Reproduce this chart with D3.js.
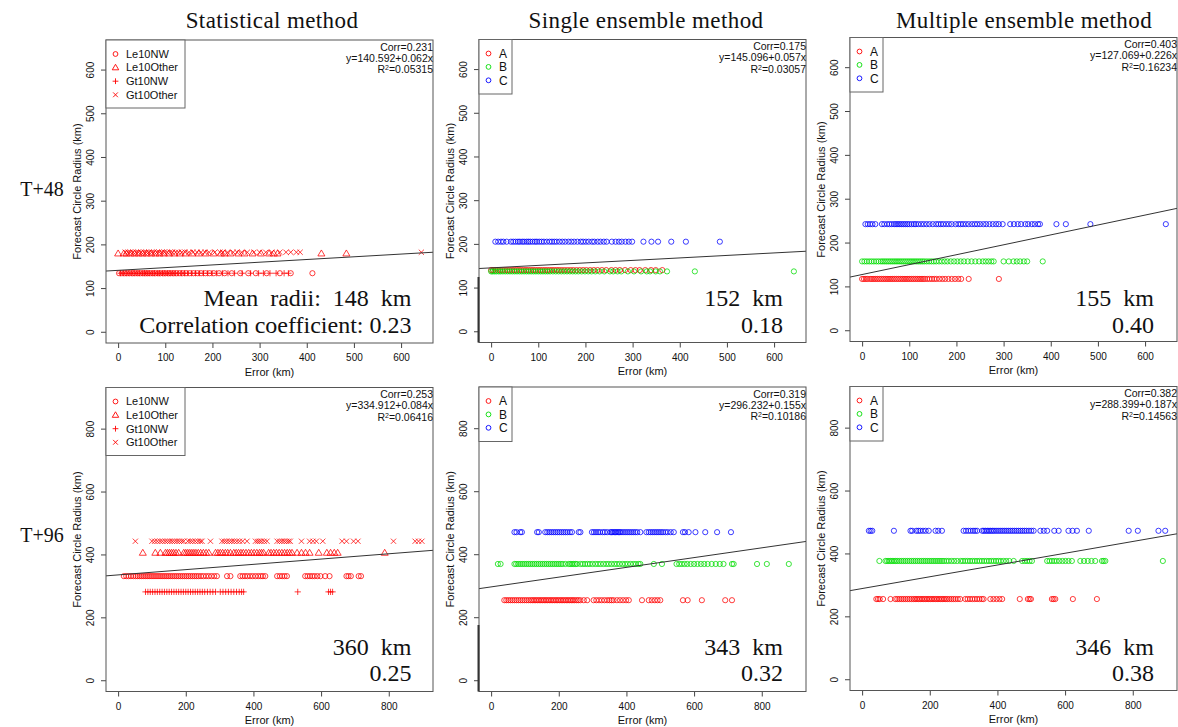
<!DOCTYPE html>
<html>
<head>
<meta charset="utf-8">
<script src="https://cdn.jsdelivr.net/npm/d3@7"></script>
<style>
  body { margin: 0; background: #fff; }
  svg text { font-family: "Liberation Sans", Arial, Helvetica, sans-serif; fill: #111; }
  svg text.serif { font-family: "Liberation Serif", "Times New Roman", serif; }
</style>
</head>
<body>
<svg id="chart" width="1178" height="727"></svg>
<script>
// ---------- data ----------
// forecast errors (km) per group; radii (km) per group

// T+48, statistical method
const t48StatLe10NW = [2, 8, 14, 19, 25, 31, 36, 42, 47, 53, 58, 63, 68, 74, 79, 85, 90, 96, 101, 107, 112, 118, 124, 131, 137, 144, 152, 160, 168, 176, 185, 194, 203, 214, 226, 241, 259, 276, 292, 315, 343, 366, 412];
const t48StatLe10Other = [0, 12, 18, 27, 35, 44, 52, 61, 70, 79, 88, 97, 108, 119, 131, 143, 157, 171, 186, 202, 218, 226, 238, 255, 268, 285, 303, 320, 330, 338, 431, 484];
const t48StatGt10NW = [5, 11, 17, 23, 29, 34, 40, 45, 51, 56, 61, 66, 72, 77, 83, 88, 94, 99, 105, 110, 116, 121, 127, 134, 141, 148, 156, 164, 172, 181, 190, 199, 209, 221, 233, 247, 263, 281, 298, 308, 322, 335, 352, 361];
const t48StatGt10Other = [15, 21, 26, 32, 38, 43, 49, 55, 60, 65, 71, 76, 82, 87, 93, 98, 104, 110, 115, 122, 128, 135, 142, 150, 159, 167, 176, 184, 193, 205, 216, 222, 232, 244, 252, 262, 274, 288, 300, 313, 326, 343, 356, 366, 378, 386, 643];
const t48StatRadii = [134, 179, 134, 182];

// T+48, single ensemble method
const t48SingleA = [0, 4, 9, 14, 19, 24, 29, 34, 39, 44, 49, 54, 59, 64, 69, 74, 79, 84, 89, 94, 99, 104, 109, 114, 119, 124, 129, 134, 139, 144, 150, 156, 162, 168, 174, 181, 188, 195, 202, 210, 218, 226, 235, 244, 255, 264, 273, 284, 296, 306, 315, 327, 339, 349, 363];
const t48SingleB = [0, 3, 7, 11, 16, 20, 25, 30, 35, 40, 45, 50, 55, 60, 65, 70, 75, 80, 85, 90, 95, 100, 105, 110, 115, 120, 125, 131, 137, 143, 149, 155, 161, 167, 173, 179, 185, 192, 199, 206, 213, 221, 230, 240, 252, 259, 268, 276, 290, 303, 318, 330, 337, 349, 358, 373, 432, 642];
const t48SingleC = [9, 15, 21, 26, 33, 42, 47, 52, 57, 61, 66, 70, 75, 79, 83, 88, 93, 97, 102, 107, 112, 118, 124, 129, 134, 139, 145, 151, 157, 164, 170, 176, 183, 190, 195, 201, 207, 214, 219, 226, 232, 239, 245, 256, 264, 271, 277, 285, 292, 299, 323, 340, 354, 382, 413, 485];
const t48SingleRadii = [140, 137, 205];

// T+48, multiple ensemble method
const t48MultiA = [0, 4, 8, 12, 17, 21, 25, 29, 33, 37, 41, 45, 49, 53, 57, 61, 65, 69, 73, 77, 81, 85, 89, 93, 97, 101, 105, 109, 113, 117, 121, 125, 129, 133, 138, 143, 148, 153, 158, 164, 170, 176, 183, 190, 197, 204, 210, 226, 290];
const t48MultiB = [0, 5, 10, 15, 20, 25, 30, 35, 40, 44, 48, 52, 56, 60, 64, 68, 72, 76, 80, 84, 88, 92, 96, 100, 104, 108, 112, 116, 120, 124, 128, 132, 137, 142, 147, 152, 157, 163, 169, 175, 181, 188, 195, 202, 209, 216, 224, 232, 240, 248, 256, 262, 268, 274, 279, 300, 311, 321, 328, 335, 343, 350, 383];
const t48MultiC = [7, 12, 17, 22, 28, 42, 47, 53, 58, 63, 68, 72, 76, 80, 84, 88, 92, 96, 100, 105, 110, 114, 119, 125, 131, 137, 143, 150, 157, 162, 167, 172, 178, 184, 190, 198, 204, 209, 214, 220, 226, 233, 239, 244, 250, 257, 263, 270, 277, 284, 290, 298, 314, 322, 330, 337, 346, 352, 360, 366, 373, 377, 412, 432, 484, 644];
const t48MultiRadii = [117, 157, 242];

// T+96, statistical method
const t96StatLe10NW = [17, 24, 31, 38, 45, 52, 58, 64, 70, 76, 82, 88, 94, 100, 106, 112, 118, 124, 130, 136, 142, 148, 154, 160, 166, 172, 178, 184, 190, 196, 202, 208, 214, 220, 226, 232, 238, 245, 252, 260, 268, 276, 284, 292, 322, 332, 361, 368, 375, 382, 390, 398, 406, 414, 422, 428, 435, 470, 478, 485, 492, 499, 553, 560, 567, 574, 581, 589, 598, 612, 625, 675, 681, 688, 711, 718];
const t96StatLe10Other = [73, 110, 125, 140, 146, 152, 158, 164, 171, 179, 194, 200, 206, 212, 218, 224, 230, 237, 244, 252, 260, 268, 288, 295, 302, 309, 317, 324, 332, 342, 349, 356, 363, 370, 378, 386, 394, 402, 410, 418, 424, 430, 445, 452, 460, 468, 476, 484, 492, 500, 507, 514, 529, 542, 554, 566, 593, 617, 628, 639, 649, 788];
const t96StatGt10NW = [81, 88, 95, 102, 109, 116, 123, 130, 137, 144, 151, 158, 165, 172, 179, 186, 193, 200, 207, 214, 221, 228, 235, 242, 249, 256, 264, 272, 280, 288, 302, 310, 318, 326, 334, 342, 350, 358, 365, 371, 531, 622, 628, 634];
const t96StatGt10Other = [51, 100, 108, 116, 124, 131, 139, 146, 153, 160, 167, 174, 181, 188, 194, 206, 213, 220, 228, 236, 243, 248, 273, 307, 314, 321, 329, 336, 343, 351, 359, 368, 381, 406, 412, 418, 424, 432, 440, 470, 477, 484, 491, 498, 504, 509, 542, 566, 576, 586, 605, 662, 675, 696, 709, 814, 878, 888, 898];
const t96StatRadii = [331, 405, 281, 442];

// T+96, single ensemble method
const t96SingleA = [39, 45, 51, 57, 63, 69, 75, 81, 87, 93, 99, 105, 111, 117, 122, 127, 132, 137, 142, 147, 152, 157, 162, 167, 172, 177, 182, 187, 192, 197, 202, 207, 212, 217, 222, 227, 232, 237, 242, 247, 253, 258, 264, 274, 284, 303, 311, 319, 327, 335, 343, 350, 356, 362, 372, 381, 390, 399, 407, 446, 466, 475, 484, 492, 500, 567, 581, 623, 692, 712];
const t96SingleB = [20, 28, 69, 74, 80, 86, 92, 98, 104, 110, 116, 122, 128, 134, 140, 146, 152, 158, 164, 170, 176, 182, 188, 194, 200, 206, 212, 220, 229, 234, 239, 244, 249, 254, 264, 271, 278, 285, 292, 300, 308, 316, 324, 332, 340, 348, 356, 364, 372, 380, 388, 396, 404, 412, 420, 428, 436, 441, 481, 505, 548, 556, 564, 572, 580, 590, 600, 610, 620, 630, 640, 652, 664, 676, 687, 712, 717, 786, 815, 880];
const t96SingleC = [69, 75, 86, 91, 136, 141, 160, 166, 172, 178, 184, 190, 196, 202, 208, 214, 220, 226, 233, 239, 259, 264, 298, 304, 310, 316, 322, 330, 336, 343, 352, 356, 360, 364, 368, 372, 376, 380, 384, 390, 396, 402, 408, 414, 420, 426, 432, 441, 459, 466, 472, 478, 484, 490, 496, 502, 508, 515, 522, 531, 540, 567, 573, 584, 604, 633, 668, 709];
const t96SingleRadii = [254, 369, 470];

// T+96, multiple ensemble method
const t96MultiA = [42, 47, 52, 62, 84, 98, 104, 110, 116, 122, 128, 134, 140, 146, 152, 157, 162, 167, 172, 177, 182, 187, 192, 197, 202, 207, 212, 217, 222, 227, 232, 237, 242, 247, 252, 258, 264, 270, 276, 283, 290, 305, 312, 319, 326, 333, 340, 347, 354, 359, 379, 388, 397, 406, 414, 466, 490, 495, 499, 561, 566, 571, 623, 694];
const t96MultiB = [51, 69, 74, 79, 84, 89, 94, 99, 104, 110, 116, 122, 128, 134, 140, 146, 152, 158, 164, 170, 176, 182, 188, 194, 200, 206, 212, 218, 224, 230, 236, 242, 249, 256, 264, 272, 281, 291, 298, 305, 312, 319, 326, 333, 340, 347, 354, 361, 368, 375, 382, 389, 396, 403, 410, 418, 426, 435, 448, 473, 481, 488, 495, 502, 547, 554, 561, 568, 575, 583, 592, 601, 610, 620, 645, 656, 667, 678, 689, 709, 714, 719, 889];
const t96MultiC = [20, 25, 30, 94, 143, 148, 160, 166, 172, 180, 188, 197, 217, 225, 236, 300, 307, 314, 321, 328, 334, 340, 355, 360, 365, 370, 375, 380, 385, 390, 396, 402, 408, 414, 420, 426, 432, 438, 444, 450, 456, 462, 468, 474, 480, 486, 493, 500, 507, 527, 537, 547, 568, 581, 610, 622, 635, 670, 788, 815, 876, 896];
const t96MultiRadii = [255, 376, 472];

// group names and glyphs
const statGroups = ["Le10NW", "Le10Other", "Gt10NW", "Gt10Other"];
const statGlyphs = ["circle", "triangle", "plus", "cross"];
const ensGroups = ["A", "B", "C"];
const ensColors = ["#ff0000", "#00dd00", "#0000ff"];

// regression fits: intercept, slope, corr, R^2
const fitIntercepts = [140.592, 145.096, 127.069, 334.912, 296.232, 288.399];
const fitSlopes = [0.062, 0.057, 0.226, 0.084, 0.155, 0.187];
const fitCorr = ["0.231", "0.175", "0.403", "0.253", "0.319", "0.382"];
const fitR2 = ["0.05315", "0.03057", "0.16234", "0.06416", "0.10186", "0.14563"];
const meanRadii = [148, 152, 155, 360, 343, 346];
const corrRounded = ["0.23", "0.18", "0.40", "0.25", "0.32", "0.38"];

// axis limits and ticks per lead time
const axisMax = [642, 895];
const ticks48 = [0, 100, 200, 300, 400, 500, 600];
const ticks96 = [0, 200, 400, 600, 800];

const columnTitles = ["Statistical method", "Single ensemble method", "Multiple ensemble method"];
const rowTitles = ["T+48", "T+96"];

// ---------- layout ----------
const svg = d3.select("#chart");
svg.append("rect").attr("width", 1178).attr("height", 727).attr("fill", "#fff");

const colLeft = [106, 479, 850];
const rowBoxes = [
  [{top: 40, bottom: 343}, {top: 39.5, bottom: 342.5}, {top: 37.5, bottom: 341.5}],
  [{top: 387.5, bottom: 691.5}, {top: 387, bottom: 691.5}, {top: 386.5, bottom: 690.5}]
];
const boxW = 327;

function glyphPath(kind, r) {
  if (kind === "circle") return d3.symbol(d3.symbolCircle, Math.PI * r * r)();
  if (kind === "triangle") {
    const h = r * 2.3, w = r * 1.35;
    return `M0,${-h * 0.6}L${w},${h * 0.4}L${-w},${h * 0.4}Z`;
  }
  if (kind === "plus") return `M${-r * 1.2},0H${r * 1.2}M0,${-r * 1.2}V${r * 1.2}`;
  return `M${-r},${-r}L${r},${r}M${-r},${r}L${r},${-r}`;
}

function buildSeries(row, col) {
  if (col === 0) {
    const lists = row === 0
      ? [t48StatLe10NW, t48StatLe10Other, t48StatGt10NW, t48StatGt10Other]
      : [t96StatLe10NW, t96StatLe10Other, t96StatGt10NW, t96StatGt10Other];
    const radii = row === 0 ? t48StatRadii : t96StatRadii;
    return statGroups.map((g, i) => ({name: g, glyph: statGlyphs[i], color: "#ff0000", radius: radii[i], errors: lists[i]}));
  }
  const lists = row === 0
    ? (col === 1 ? [t48SingleA, t48SingleB, t48SingleC] : [t48MultiA, t48MultiB, t48MultiC])
    : (col === 1 ? [t96SingleA, t96SingleB, t96SingleC] : [t96MultiA, t96MultiB, t96MultiC]);
  const radii = row === 0
    ? (col === 1 ? t48SingleRadii : t48MultiRadii)
    : (col === 1 ? t96SingleRadii : t96MultiRadii);
  return ensGroups.map((g, i) => ({name: g, glyph: "circle", color: ensColors[i], radius: radii[i], errors: lists[i]}));
}

function drawPanel(row, col) {
  const idx = row * 3 + col;
  const left = colLeft[col], right = left + boxW;
  const {top, bottom} = rowBoxes[row][col];
  const lim = axisMax[row];
  const ticks = row === 0 ? ticks48 : ticks96;

  const x = d3.scaleLinear().domain([-0.04 * lim, 1.04 * lim]).range([left, right]);
  const y = d3.scaleLinear().domain([-0.04 * lim, 1.04 * lim]).range([bottom, top]);

  const g = svg.append("g");
  const clipId = "clip" + idx;
  g.append("clipPath").attr("id", clipId)
    .append("rect").attr("x", left).attr("y", top).attr("width", right - left).attr("height", bottom - top);

  // points
  const series = buildSeries(row, col);
  const pts = g.append("g").attr("clip-path", `url(#${clipId})`);
  series.forEach(s => {
    pts.selectAll(null).data(s.errors).join("path")
      .attr("transform", d => `translate(${x(d)},${y(s.radius)})`)
      .attr("d", glyphPath(s.glyph, 2.6))
      .attr("fill", "none").attr("stroke", s.color).attr("stroke-width", 0.9).attr("stroke-opacity", 0.85);
  });

  // regression line
  const dom = x.domain();
  pts.append("line")
    .attr("x1", x(dom[0])).attr("y1", y(fitIntercepts[idx] + fitSlopes[idx] * dom[0]))
    .attr("x2", x(dom[1])).attr("y2", y(fitIntercepts[idx] + fitSlopes[idx] * dom[1]))
    .attr("stroke", "#333").attr("stroke-width", 1);

  // axes
  const xAxis = g.append("g").attr("transform", `translate(0,${bottom})`)
    .call(d3.axisBottom(x).tickValues(ticks).tickSize(5).tickPadding(6).tickFormat(d3.format("d")));
  xAxis.select(".domain").remove();
  xAxis.selectAll("line").attr("stroke", "#444");
  xAxis.selectAll("text").attr("font-size", 10).attr("fill", "#222")
    .attr("font-family", "Liberation Sans, Arial, sans-serif");

  const yAxis = g.append("g").attr("transform", `translate(${left},0)`)
    .call(d3.axisLeft(y).tickValues(ticks).tickSize(5).tickFormat(d3.format("d")));
  yAxis.select(".domain").remove();
  yAxis.selectAll("line").attr("stroke", "#444");
  yAxis.selectAll("text")
    .attr("transform", "rotate(-90)")
    .attr("x", 0).attr("y", -16).attr("dy", "0.35em")
    .attr("text-anchor", "middle").attr("font-size", 10).attr("fill", "#222")
    .attr("font-family", "Liberation Sans, Arial, sans-serif");

  // axis titles
  g.append("text").attr("x", (left + right) / 2).attr("y", bottom + 29).attr("dy", "0.35em")
    .attr("text-anchor", "middle").attr("font-size", 11).text("Error (km)");
  const cy = (top + bottom) / 2;
  g.append("text").attr("transform", `translate(${left - 29},${cy}) rotate(-90)`).attr("dy", "0.35em")
    .attr("text-anchor", "middle").attr("font-size", 11).text("Forecast Circle Radius (km)");

  // summary text on a white card
  const card = g.append("g");
  if (row === 0 && col < 2) {
    card.append("rect").attr("x", left + 1).attr("y", 277).attr("width", right - left - 2).attr("height", bottom - 278)
      .attr("fill", "#fff");
  }
  const textRight = col === 0 ? right - 21.5 : right - 23;
  const line1 = col === 0 && row === 0 ? `Mean radii: ${meanRadii[idx]} km` : `${meanRadii[idx]} km`;
  const line2 = col === 0 && row === 0 ? `Correlation coefficient: ${corrRounded[idx]}` : corrRounded[idx];
  const base = row === 0 ? 298 : 646.5;
  card.append("text").attr("class", "serif").attr("x", textRight).attr("y", base).attr("dy", "0.35em")
    .attr("text-anchor", "end").attr("font-size", 24).attr("word-spacing", 6).text(line1);
  card.append("text").attr("class", "serif").attr("x", textRight).attr("y", base + 26.5).attr("dy", "0.35em")
    .attr("text-anchor", "end").attr("font-size", 24).text(line2);

  // plot frame
  g.append("rect").attr("x", left).attr("y", top).attr("width", right - left).attr("height", bottom - top)
    .attr("fill", "none").attr("stroke", "#555").attr("stroke-width", 1);

  // darker left edge of the lower card in the middle column
  if (col === 1) {
    const edgeTop = row === 0 ? 277 : 625;
    g.append("line").attr("x1", left - 0.5).attr("x2", left - 0.5).attr("y1", edgeTop).attr("y2", bottom)
      .attr("stroke", "#333").attr("stroke-width", 2);
  }

  // legend
  const lg = g.append("g");
  const isStat = col === 0;
  const legW = isStat ? 79 : 33;
  const legH = isStat ? 68 : 54.5;
  const step = isStat ? 13.6 : 13.4;
  lg.append("rect").attr("x", left).attr("y", top).attr("width", legW).attr("height", legH)
    .attr("fill", "#fff").attr("stroke", "#666").attr("stroke-width", 1);
  series.forEach((s, i) => {
    const ly = top + 14 + i * step;
    lg.append("path").attr("transform", `translate(${left + 9.5},${ly})`)
      .attr("d", glyphPath(s.glyph, 2.4))
      .attr("fill", "none").attr("stroke", s.color).attr("stroke-width", 0.9);
    lg.append("text").attr("x", left + 20).attr("y", ly).attr("dy", "0.35em")
      .attr("font-size", isStat ? 11 : 12).text(s.name);
  });

  // fit annotation (upper right)
  const ax = right;
  const at = g.append("g").attr("font-size", 10.5).attr("text-anchor", "end");
  at.append("text").attr("x", ax).attr("y", top + 7).attr("dy", "0.35em").text(`Corr=${fitCorr[idx]}`);
  at.append("text").attr("x", ax).attr("y", top + 18.3).attr("dy", "0.35em")
    .text(`y=${fitIntercepts[idx].toFixed(3)}+${fitSlopes[idx].toFixed(3)}x`);
  const r2 = at.append("text").attr("x", ax).attr("y", top + 29.5).attr("dy", "0.35em");
  r2.append("tspan").text("R");
  r2.append("tspan").attr("font-size", 7).attr("dy", "-0.45em").text("2");
  r2.append("tspan").attr("dy", "0.3em").text(`=${fitR2[idx]}`);
}

for (let r = 0; r < 2; r++) for (let c = 0; c < 3; c++) drawPanel(r, c);

// column and row headings
const titleX = [272, 646, 1024];
columnTitles.forEach((t, i) => {
  svg.append("text").attr("class", "serif").attr("x", titleX[i]).attr("y", 20).attr("dy", "0.35em")
    .attr("text-anchor", "middle").attr("font-size", 23).attr("letter-spacing", 0.4).text(t);
});
const rowY = [189, 535];
rowTitles.forEach((t, i) => {
  svg.append("text").attr("class", "serif").attr("x", 42).attr("y", rowY[i]).attr("dy", "0.35em")
    .attr("text-anchor", "middle").attr("font-size", 20).text(t);
});
</script>
</body>
</html>
